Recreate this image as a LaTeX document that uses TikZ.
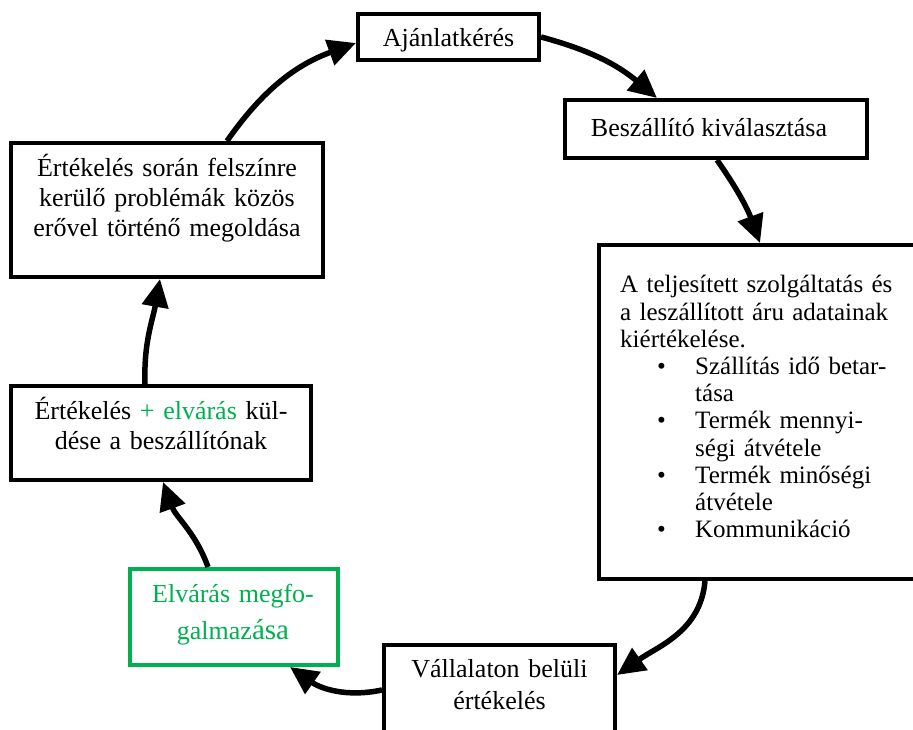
\documentclass[tikz,border=0pt]{standalone}
\usepackage{fontspec}
\setmainfont{Liberation Serif}
\usetikzlibrary{arrows.meta}
\definecolor{xgreen}{RGB}{0,176,80}
\begin{document}
\begin{tikzpicture}[x=1pt,y=1pt,
  boxst/.style={draw, line width=4pt, inner sep=0pt},
  txt/.style={inner sep=0pt, font=\fontsize{26}{30}\selectfont},
  conn/.style={line width=5.5pt, -{Triangle[length=28pt,width=26pt]}}]
\useasboundingbox (0,0) rectangle (913,730);
\clip (0,0) rectangle (913,730);
% boxes
\node[boxst, minimum width=181pt, minimum height=46pt] (aj) at (448.5,693) {};
\node[boxst, minimum width=302pt, minimum height=58pt] (besz) at (716,601) {};
\node[boxst, minimum width=331pt, minimum height=334pt] (big) at (764.5,318) {};
\node[boxst, minimum width=312pt, minimum height=134pt] (tl) at (167,520) {};
\node[boxst, minimum width=300pt, minimum height=94pt] (ml) at (161,297) {};
\node[boxst, draw=xgreen, minimum width=208pt, minimum height=96pt] (gr) at (234,113) {};
\node[boxst, minimum width=231pt, minimum height=100pt] (va) at (499.5,35) {};
% texts
\node[txt, anchor=base] (ajt) at (448.5,683) {Ajánlatkérés};
\node[txt, anchor=base] (beszt) at (709,593) {Beszállító kiválasztása};
\node[txt, anchor=base, text width=300pt, align=center] (tlt) at (167,553)
  {Értékelés során felszínre\\kerülő problémák közös\\erővel történő megoldása};
\node[txt, anchor=base, text width=300pt, align=center] (mlt) at (161,310)
  {Értékelés {\color{xgreen}+ elvárás} kül-\\dése a beszállítónak};
\node[txt, anchor=base, text width=200pt, align=center, text=xgreen,
  font=\fontsize{26}{37}\selectfont] (grt) at (233,127)
  {Elvárás megfo-\\galmaz{\fontsize{29}{37}\selectfont ása}};
\node[txt, anchor=base, text width=230pt, align=center,
  font=\fontsize{26}{32}\selectfont] (vat) at (499.5,52)
  {Vállalaton belüli\\értékelés};
\node[txt, anchor=base west, text width=295pt, align=left,
  font=\fontsize{25}{27.2}\selectfont] (bigt) at (620,437)
  {A teljesített szolgáltatás és\\
   a leszállított áru adatainak\\
   kiértékelése.\\
   \hspace*{37pt}\makebox[38pt][l]{•}Szállítás idő betar-\\
   \hspace*{75pt}tása\\
   \hspace*{37pt}\makebox[38pt][l]{•}Termék mennyi-\\
   \hspace*{75pt}ségi átvétele\\
   \hspace*{37pt}\makebox[38pt][l]{•}Termék minőségi\\
   \hspace*{75pt}átvétele\\
   \hspace*{37pt}\makebox[38pt][l]{•}Kommunikáció};
% connectors
\draw[conn] ([xshift=60pt]tl.north) to[out=55,in=200] ([yshift=-6pt]aj.west);
\draw[conn] (aj.east) to[out=-15,in=140] ([xshift=-59pt]besz.north);
\draw[conn] ([xshift=1pt]besz.south) to[out=-55,in=110] ([xshift=-4.5pt]big.north);
\draw[conn] ([xshift=-59.5pt]big.south) to[out=-95,in=35] ([yshift=20pt]va.east);
\draw[conn] ([yshift=5pt]va.west) to[out=192,in=-35] ([xshift=56pt]gr.south);
\draw[conn] ([xshift=-26pt]gr.north) to[out=110,in=-70] ([xshift=2pt]ml.south);
\draw[conn] ([xshift=-16pt]ml.north) to[out=92,in=-100] ([xshift=-7pt]tl.south);
\end{tikzpicture}
\end{document}
